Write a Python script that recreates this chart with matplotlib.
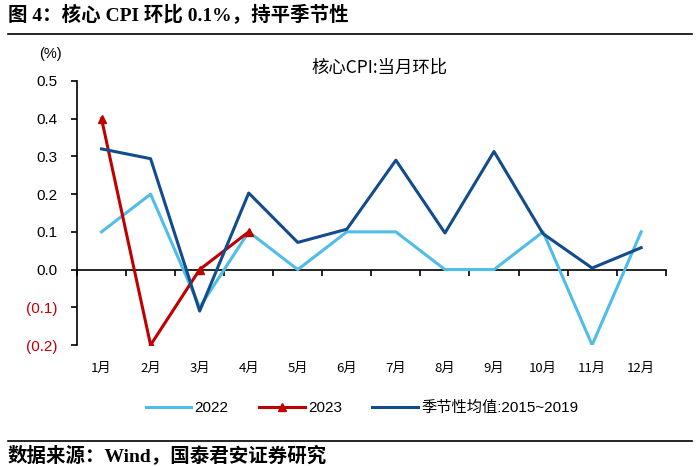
import numpy as np
import matplotlib
matplotlib.use("Agg")
import matplotlib.pyplot as plt
from matplotlib.lines import Line2D

# === Data ===
months = ["1月", "2月", "3月", "4月", "5月", "6月", "7月", "8月", "9月", "10月", "11月", "12月"]
cpi_2022 = [0.1, 0.2, -0.1, 0.1, 0.0, 0.1, 0.1, 0.0, 0.0, 0.1, -0.2, 0.1]
cpi_2023 = [0.4, -0.2, 0.0, 0.1]
seasonal_avg = [0.32, 0.294, -0.11, 0.203, 0.072, 0.107, 0.29, 0.097, 0.313, 0.095, 0.004, 0.058]
yticks = [-0.2, -0.1, 0.0, 0.1, 0.2, 0.3, 0.4, 0.5]

# === Style ===
CJK = ["Noto Sans CJK SC", "DejaVu Sans"]
LATIN_CJK = ["Liberation Sans", "Noto Sans CJK SC"]
SERIF_CJK = ["Liberation Serif", "Noto Sans CJK SC"]
C_2022 = "#4FBDE8"
C_2023 = "#C00000"
C_SEAS = "#134C8C"

fig = plt.figure(figsize=(7, 4.66), dpi=100)
ax = fig.add_axes([0.11, 1 - 345 / 466, 0.841, (345 - 81) / 466])

x = np.arange(len(months))
ax.plot(x, cpi_2022, color=C_2022, lw=2.2)
ax.plot(x[:len(cpi_2023)], cpi_2023, color=C_2023, lw=2.2, marker="^", ms=6)
ax.plot(x, seasonal_avg, color=C_SEAS, lw=2.2)

ax.set_xlim(-0.5, 11.5)
ax.set_ylim(-0.2, 0.5)

for s in ["top", "right", "bottom"]:
    ax.spines[s].set_visible(False)
ax.spines["left"].set_linewidth(1.2)

ax.set_yticks(yticks)
ylabels = [f"({abs(v):.1f})" if v < 0 else f"{v:.1f}" for v in yticks]
ax.set_yticklabels(ylabels, family=LATIN_CJK, fontsize=11)
for lab, v in zip(ax.get_yticklabels(), yticks):
    lab.set_color(C_2023 if v < 0 else "black")
ax.tick_params(axis="y", direction="out", length=4, width=1.2, pad=10)

ax.set_xticks(x)
ax.set_xticklabels(months, family=CJK, fontsize=9.5)
ax.tick_params(axis="x", length=0, pad=12)

# zero line with category boundary ticks
zero_ax = ax.secondary_xaxis(0.2 / 0.7)
zero_ax.set_xticks(np.arange(-0.5, 12, 1.0))
zero_ax.set_xticklabels([])
zero_ax.tick_params(direction="out", length=4, width=1.2)
zero_ax.spines["bottom"].set_linewidth(1.2)

fig.text(50 / 700, 1 - 54 / 466, "(%)", family=LATIN_CJK, fontsize=10.5, ha="center", va="center")
fig.text(380 / 700, 1 - 68 / 466, "核心CPI:当月环比", family=CJK, fontsize=12.5, ha="center", va="center")

# legend
handles = [
    Line2D([], [], color=C_2022, lw=2.2),
    Line2D([], [], color=C_2023, lw=2.2, marker="^", ms=6),
    Line2D([], [], color=C_SEAS, lw=2.2),
]
fig.legend(handles, ["2022", "2023", "季节性均值:2015~2019"], loc="center",
           bbox_to_anchor=(362 / 700, 1 - 408 / 466), ncol=3, frameon=False,
           prop={"family": LATIN_CJK, "size": 11}, handlelength=3.0,
           handletextpad=0.2, columnspacing=2.0)

# header / footer
fig.text(8 / 700, 1 - 15 / 466, "图 4：核心 CPI 环比 0.1%，持平季节性", family=SERIF_CJK,
         fontsize=14, fontweight="bold", ha="left", va="center")
fig.add_artist(Line2D([8 / 700, 692 / 700], [1 - 34 / 466] * 2, color="black", lw=1.2))
fig.add_artist(Line2D([8 / 700, 692 / 700], [1 - 441 / 466] * 2, color="black", lw=1.2))
fig.text(8 / 700, 1 - 456 / 466, "数据来源：Wind，国泰君安证券研究", family=SERIF_CJK,
         fontsize=14, fontweight="bold", ha="left", va="center")

fig.savefig("out.png", dpi=100)
